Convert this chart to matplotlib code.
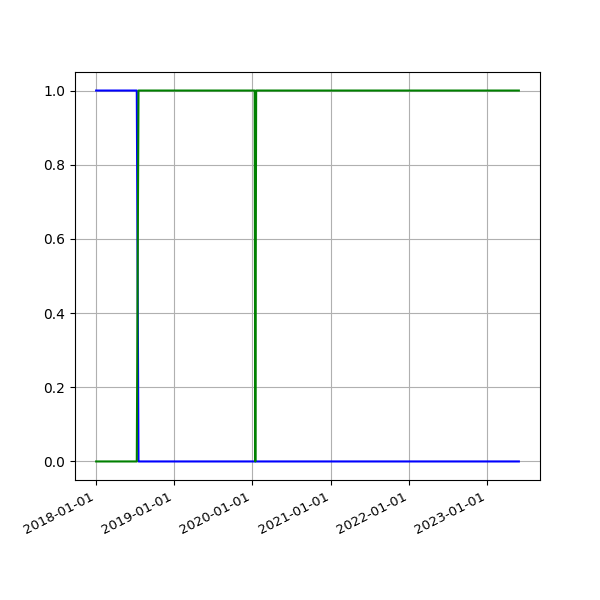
import pandas as pd
import matplotlib
matplotlib.use("Agg")
import matplotlib.pyplot as plt
import matplotlib.dates as mdates

# state series
blue_dates = ["2018-01-01", "2018-07-10", "2018-07-18", "2023-05-31"]
blue_vals = [1, 1, 0, 0]

green_dates = ["2018-01-01", "2018-07-10", "2018-07-18", "2020-01-12",
               "2020-01-15", "2020-01-19", "2023-05-31"]
green_vals = [0, 0, 1, 1, 0, 1, 1]

fig, ax = plt.subplots(figsize=(6, 6), dpi=100)
ax.plot(pd.to_datetime(blue_dates), blue_vals, color="blue")
ax.plot(pd.to_datetime(green_dates), green_vals, color="green")

ax.xaxis.set_major_locator(mdates.YearLocator())
ax.xaxis.set_major_formatter(mdates.DateFormatter("%Y-%m-%d"))
ax.grid(True)
fig.autofmt_xdate(rotation=27)
ax.tick_params(axis="x", labelsize=9.5)

plt.savefig("out.png")
